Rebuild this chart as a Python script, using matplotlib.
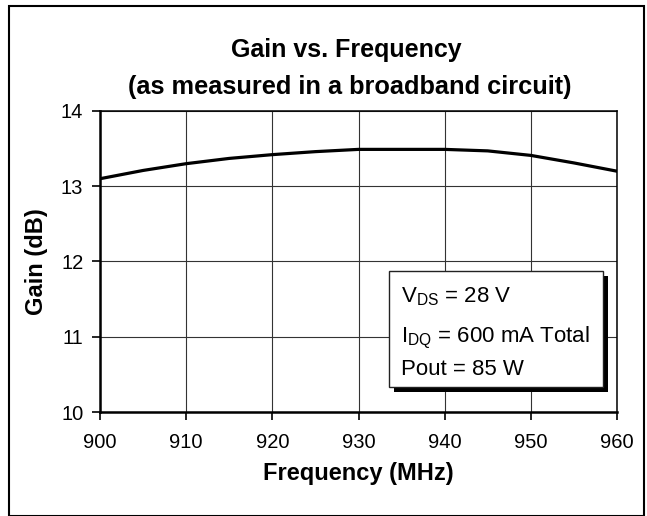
import numpy as np
import matplotlib
matplotlib.use('Agg')
import matplotlib.pyplot as plt
from matplotlib.patches import Rectangle

plt.rcParams['font.family'] = ['Liberation Sans', 'DejaVu Sans']
plt.rcParams['mathtext.fontset'] = 'custom'
plt.rcParams['mathtext.rm'] = 'Liberation Sans'
plt.rcParams['mathtext.it'] = 'Liberation Sans:italic'
plt.rcParams['mathtext.bf'] = 'Liberation Sans:bold'

# data
freq_mhz = [900, 905, 910, 915, 920, 925, 930, 935, 940, 945, 950, 955, 960]
gain_db = [13.10, 13.21, 13.30, 13.37, 13.42, 13.46, 13.49, 13.49, 13.49, 13.47, 13.41, 13.31, 13.20]
x_ticks = [900, 910, 920, 930, 940, 950, 960]
y_ticks = [10, 11, 12, 13, 14]
box_lines = [r'V$_{\mathrm{DS}}$ = 28 V', r'I$_{\mathrm{DQ}}$ = 600 mA Total', 'Pout = 85 W']

W, H = 647, 516
fig = plt.figure(figsize=(W / 100, H / 100), dpi=100)
ax = fig.add_axes([100 / W, 1 - 412 / H, 517 / W, 301 / H])

ax.plot(freq_mhz, gain_db, color='black', lw=2.3, zorder=3, solid_joinstyle='round')
ax.set_xlim(900, 960)
ax.set_ylim(10, 14)
ax.set_xticks(x_ticks)
ax.set_yticks(y_ticks)
ax.grid(True, color='#333333', lw=0.8)
ax.set_axisbelow(True)
for s in ['left', 'bottom']:
    ax.spines[s].set_linewidth(1.8)
for s in ['top', 'right']:
    ax.spines[s].set_linewidth(1.1)
ax.tick_params(axis='both', labelsize=14.5, length=6, width=1.2, direction='out')
ax.tick_params(axis='y', pad=6)
ax.tick_params(axis='x', pad=9)

ax.set_xlabel('Frequency (MHz)', fontsize=17, fontweight='bold', labelpad=7)
ax.set_ylabel('Gain (dB)', fontsize=17, fontweight='bold', labelpad=9)

fig.text(346 / W, 1 - 50 / H, 'Gain vs. Frequency', fontsize=18, fontweight='bold',
         ha='center', va='center')
fig.text(350 / W, 1 - 87 / H, '(as measured in a broadband circuit)', fontsize=18.3,
         fontweight='bold', ha='center', va='center')

# annotation box with shadow
bx0, bx1, by0, by1 = 389, 603, 271, 387
fig.add_artist(Rectangle(((bx0 + 5) / W, 1 - (by1 + 5) / H), (bx1 - bx0) / W, (by1 - by0) / H,
                         transform=fig.transFigure, facecolor='black', edgecolor='none', zorder=5))
fig.add_artist(Rectangle((bx0 / W, 1 - by1 / H), (bx1 - bx0) / W, (by1 - by0) / H,
                         transform=fig.transFigure, facecolor='white', edgecolor='#222222',
                         lw=1.0, zorder=6))
baselines = [302, 342, 375]
for line, yb in zip(box_lines, baselines):
    fig.text(401 / W, 1 - yb / H, line, fontsize=16, ha='left', va='baseline', zorder=7)

# outer frame
fig.add_artist(Rectangle((9 / W, 0), 635 / W, 1 - 6 / H, transform=fig.transFigure,
                         facecolor='none', edgecolor='black', lw=1.5))

fig.savefig('out.png', dpi=100)
